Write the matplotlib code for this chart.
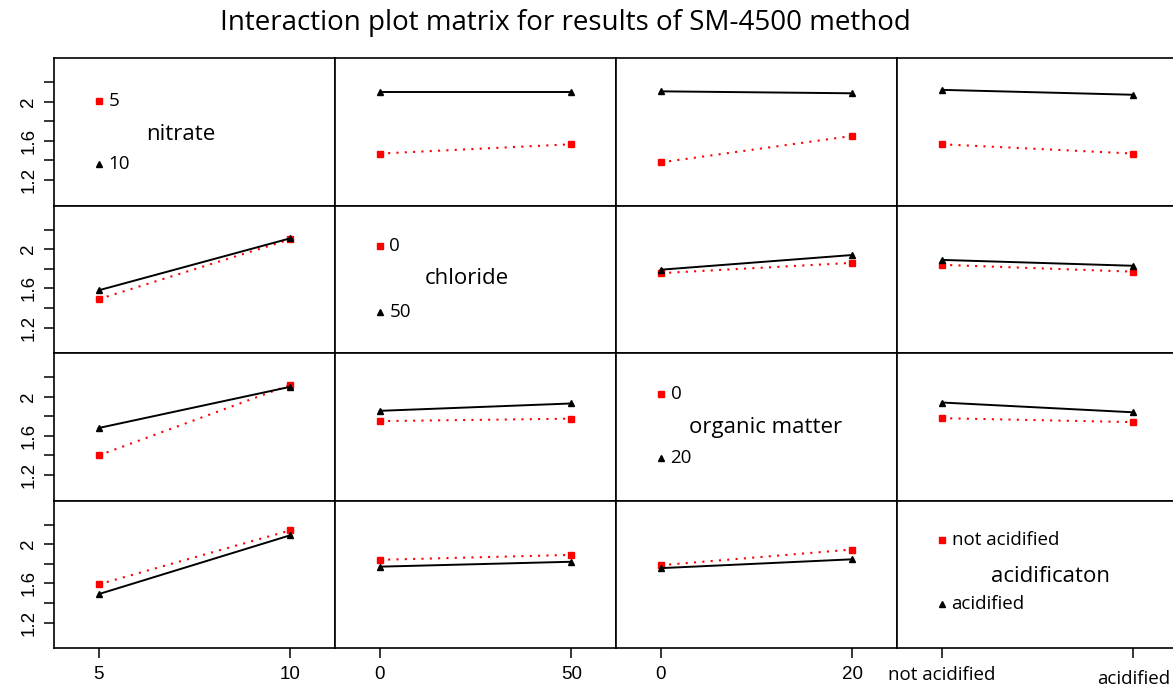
import matplotlib
matplotlib.use('Agg')
import matplotlib.pyplot as plt
from matplotlib.ticker import FixedLocator, FixedFormatter
from matplotlib.transforms import ScaledTranslation

# factors and levels
factors = ['nitrate', 'chloride', 'organic matter', 'acidificaton']
levels = [['5', '10'], ['0', '50'], ['0', '20'], ['not acidified', 'acidified']]

# mean response, row = trace factor, key = column (x) factor
# red = first level of trace factor, black = second level
nitrate_red = {1: [1.47, 1.565], 2: [1.38, 1.65], 3: [1.565, 1.47]}
nitrate_black = {1: [2.095, 2.095], 2: [2.105, 2.085], 3: [2.12, 2.07]}
chloride_red = {0: [1.49, 2.10], 2: [1.755, 1.86], 3: [1.84, 1.77]}
chloride_black = {0: [1.58, 2.11], 2: [1.79, 1.94], 3: [1.89, 1.83]}
organic_red = {0: [1.40, 2.12], 1: [1.75, 1.775], 3: [1.78, 1.74]}
organic_black = {0: [1.68, 2.10], 1: [1.855, 1.93], 3: [1.94, 1.84]}
acid_red = {0: [1.59, 2.14], 1: [1.84, 1.89], 2: [1.785, 1.945]}
acid_black = {0: [1.49, 2.09], 1: [1.77, 1.82], 2: [1.755, 1.845]}

red_means = [nitrate_red, chloride_red, organic_red, acid_red]
black_means = [nitrate_black, chloride_black, organic_black, acid_black]

y_ticks = [1.2, 1.4, 1.6, 1.8, 2.0, 2.2]
y_labels = ['1.2', '', '1.6', '', '2', '']

TXT = 'Open Sans'
NUM = 'Liberation Sans'

fig = plt.figure(figsize=(11.73, 6.89), dpi=100)
gs = fig.add_gridspec(4, 4, left=0.046, right=1.0043, top=0.9158, bottom=0.0595,
                      hspace=0, wspace=0)

name_x = [0.43, 0.456, 0.547, 0.568]
leg_y = [(2.01, 1.66, 1.36), (2.03, 1.70, 1.36), (2.03, 1.68, 1.37), (2.04, 1.67, 1.39)]

for r in range(4):
    for c in range(4):
        ax = fig.add_subplot(gs[r, c])
        ax.set_xlim(-0.234, 1.234)
        ax.set_ylim(0.94, 2.445)
        for s in ax.spines.values():
            s.set_linewidth(1.2)
        if r == c:
            # legend panel
            yr, yn, yb = leg_y[r]
            ax.plot([0], [yr], 's', color='red', ms=4.3)
            ax.plot([0], [yb], '^', color='black', ms=4.3)
            ax.annotate(levels[r][0], (0, yr), xytext=(7, 0), textcoords='offset points',
                        ha='left', va='center', fontsize=13.5, family=TXT)
            ax.annotate(levels[r][1], (0, yb), xytext=(7, 0), textcoords='offset points',
                        ha='left', va='center', fontsize=13.5, family=TXT)
            ax.text(name_x[r], yn, factors[r], ha='center', va='center',
                    fontsize=16, family=TXT)
        else:
            xs = [0, 1]
            ax.plot(xs, red_means[r][c], color='red', ls=(0, (1, 3)), lw=1.5,
                    marker='s', ms=4.5)
            ax.plot(xs, black_means[r][c], color='black', ls='-', lw=1.4,
                    marker='^', ms=4.8)
        # axes
        if c == 0:
            ax.yaxis.set_major_locator(FixedLocator(y_ticks))
            ax.yaxis.set_major_formatter(FixedFormatter(y_labels))
            ax.tick_params(axis='y', length=7, width=1.1, pad=5, labelsize=13.5)
            for lab in ax.get_yticklabels():
                lab.set_rotation(90)
                lab.set_va('center')
                lab.set_family(NUM)
        else:
            ax.set_yticks([])
        if r == 3:
            ax.set_xticks([0, 1])
            ax.set_xticklabels(levels[c])
            ax.tick_params(axis='x', length=7, width=1.1, pad=6, labelsize=13.5)
            for lab in ax.get_xticklabels():
                lab.set_family(TXT if c == 3 else NUM)
            if c == 3:
                labs = ax.get_xticklabels()
                labs[1].set_transform(labs[1].get_transform() +
                                      ScaledTranslation(0, -3 / 72, fig.dpi_scale_trans))
        else:
            ax.set_xticks([])

fig.text(0.4817, 0.966, 'Interaction plot matrix for results of SM-4500 method',
         ha='center', va='center', fontsize=20, family=TXT)

plt.savefig('out.png', dpi=100)
